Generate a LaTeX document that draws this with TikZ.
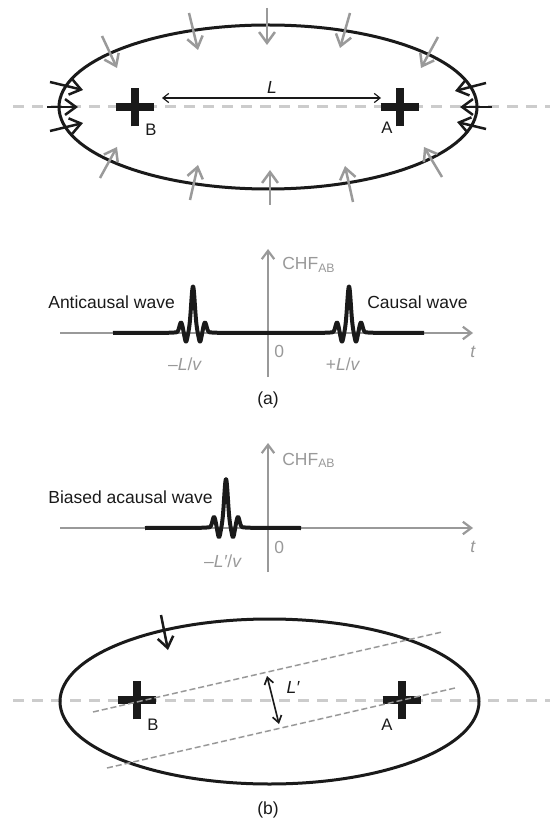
\documentclass[tikz,border=0pt]{standalone}
\usepackage{fontspec}
\setmainfont{Liberation Sans}
\usepackage{xcolor}
\usepackage{tikz}
\usetikzlibrary{arrows.meta, shapes.misc, positioning}

\definecolor{inkblack}{HTML}{1A1A1A}
\definecolor{raygray}{HTML}{9A9A9A}
\definecolor{axisgray}{HTML}{999999}
\definecolor{lightdash}{HTML}{CCCCCC}

\begin{document}
\begin{tikzpicture}[
    x=0.6pt, y=-0.6pt,
    declare function={wlet(\t)=45*exp(-1*(\t/2.6)*(\t/2.6)) - 10*exp(-1*((abs(\t)-7)/2)*((abs(\t)-7)/2)) + 9.5*exp(-1*((abs(\t)-12)/2.2)*((abs(\t)-12)/2.2)) + 1.5*exp(-1*(\t/18)*(\t/18));},
    boundary/.style={draw=inkblack, line width=1.8pt},
    midline/.style={draw=lightdash, line width=1.8pt, dash pattern=on 6.6pt off 4.8pt},
    slantline/.style={draw=axisgray, line width=0.9pt, dash pattern=on 3.6pt off 1.8pt},
    grayray/.style={draw=raygray, line width=1.5pt, -{Straight Barb[length=6.5pt,width=9.5pt]}},
    blackray/.style={draw=inkblack, line width=1.5pt, -{Straight Barb[length=6.5pt,width=9.5pt]}},
    crossmark/.style={cross out, draw=inkblack, line width=5pt, minimum size=11.5pt, inner sep=0pt, rotate=45},
    axisline/.style={draw=axisgray, line width=1.3pt, -{Straight Barb[length=5pt,width=7.5pt]}},
    wave/.style={draw=inkblack, line width=2.4pt, line join=round},
    txt/.style={font=\fontsize{10.5}{12}\selectfont, inner sep=0pt, text=inkblack},
    graytxt/.style={font=\fontsize{10.5}{12}\selectfont, inner sep=0pt, text=axisgray},
    ptlabel/.style={font=\fontsize{10}{12}\selectfont, inner sep=0pt, text=inkblack}
]
\useasboundingbox (0,0) rectangle (550,821);

% (a) cavity with both points
\draw[midline] (13,107) -- (550,107);
\draw[boundary] (268,107) ellipse [x radius=209, y radius=82];
\node[crossmark] (crossB) at (135,107) {};
\node[crossmark] (crossA) at (400,107) {};
\node[ptlabel] (labB) at (151,130) {B};
\node[ptlabel] (labA) at (387,128) {A};
\coordinate (Lleft) at (162,98);
\coordinate (Lright) at (381,98);
\draw[inkblack, line width=0.7pt, {Straight Barb[length=3.5pt,width=5.5pt]}-{Straight Barb[length=3.5pt,width=5.5pt]}] (Lleft) -- (Lright);
\node[txt, font=\fontsize{10.5}{12}\selectfont\itshape] (labL) at (272,87) {L};

\foreach \sx/\sy/\ex/\ey in {102/36/117/68, 189/13/198/50, 267/8/267/45, 350/13/340/48, 438/37/421/68,
    100/178/117/147, 190/200/198/165, 270/205/270/170, 353/202/345/166, 442/177/424/147}
    \draw[grayray] (\sx,\sy) -- (\ex,\ey);
\foreach \sx/\sy/\ex/\ey in {50/82/83/90, 47/107/78/107, 50/131/83/123,
    486/83/455/91, 492/107/460/107, 486/129/457/122}
    \draw[blackray] (\sx,\sy) -- (\ex,\ey);

% (a) correlation plot
\draw[axisline] (60,333) -- (473,333);
\draw[axisline] (268,377) -- (268,249);
\draw[wave] (113,333) -- plot[domain=-25:25, samples=201] ({193+\x},{333-wlet(\x)})
    -- plot[domain=-25:25, samples=201] ({349+\x},{333-wlet(\x)}) -- (424,333);
\node[graytxt, anchor=base west] (chfA) at (282,270) {CHF\textsubscript{AB}};
\node[txt, anchor=base west] (anti) at (48,309) {Anticausal wave};
\node[txt, anchor=base west] (causal) at (367,309) {Causal wave};
\node[graytxt, anchor=base west] (zeroA) at (274,358) {0};
\node[graytxt, anchor=base] (negA) at (185,371) {–\textit{L}/\textit{v}};
\node[graytxt, anchor=base] (posA) at (343,371) {+\textit{L}/\textit{v}};
\node[graytxt, anchor=base west, font=\fontsize{10.5}{12}\selectfont\itshape] (tA) at (470,357) {t};
\node[txt, anchor=base] (capA) at (268,404) {(a)};

% (b) correlation plot
\draw[axisline] (60,528) -- (473,528);
\draw[axisline] (268,572) -- (268,443);
\draw[wave] (145,528) -- plot[domain=-25:25, samples=201] ({226+\x},{528-1.05*wlet(\x)}) -- (301,528);
\node[graytxt, anchor=base west] (chfB) at (282,465) {CHF\textsubscript{AB}};
\node[txt, anchor=base west] (biased) at (48,503) {Biased acausal wave};
\node[graytxt, anchor=base west] (zeroB) at (274,553) {0};
\node[graytxt, anchor=base] (negB) at (223,567) {–\textit{L′}/\textit{v}};
\node[graytxt, anchor=base west, font=\fontsize{10.5}{12}\selectfont\itshape] (tB) at (470,552) {t};

% (b) cavity with a single source
\draw[midline] (13,700) -- (550,700);
\draw[boundary] (269.5,701.5) ellipse [x radius=209.5, y radius=82.5];
\node[crossmark] (crossB2) at (137,700) {};
\node[crossmark] (crossA2) at (402,700) {};
\node[ptlabel] (labB2) at (153,725) {B};
\node[ptlabel] (labA2) at (387,725) {A};
\coordinate (upL) at (93,712);
\coordinate (upR) at (442,632);
\coordinate (loL) at (107,768);
\coordinate (loR) at (455,688);
\draw[slantline] (upL) -- (upR);
\draw[slantline] (loL) -- (loR);
\coordinate (srcTail) at (161,615);
\coordinate (srcHead) at (168,650);
\draw[blackray] (srcTail) -- (srcHead);
\coordinate (Ptop) at (267,676);
\coordinate (Pbot) at (279,724);
\draw[inkblack, line width=1pt, {Straight Barb[length=4pt,width=5.5pt]}-{Straight Barb[length=4pt,width=5.5pt]}] (Ptop) -- (Pbot);
\node[txt, font=\fontsize{10.5}{12}\selectfont\itshape] (labLp) at (293,687) {L′};
\node[txt, anchor=base] (capB) at (268,814) {(b)};
\end{tikzpicture}
\end{document}
